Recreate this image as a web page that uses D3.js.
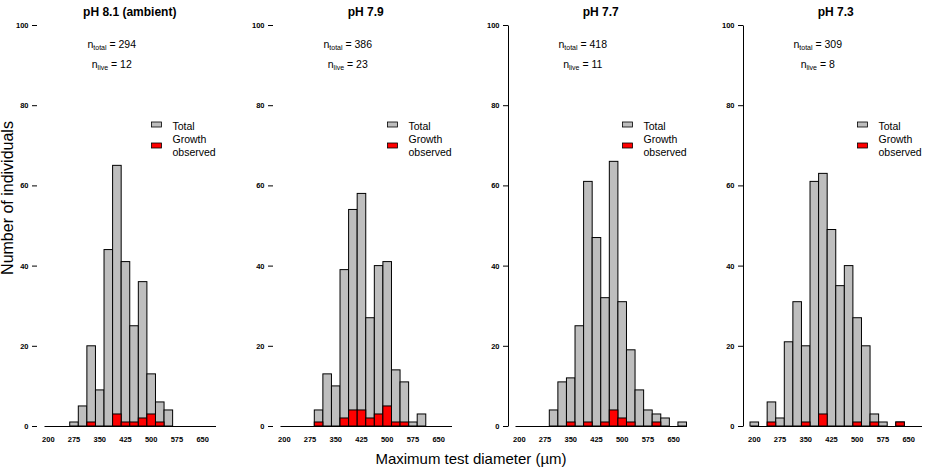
<!DOCTYPE html>
<html lang="en">
<head>
  <meta charset="UTF-8">
  <style>
    body { margin: 0; background: #fff; }
    svg { font-family: Arial, 'Liberation Sans', sans-serif; }
    .title { font-size: 12px; font-weight: bold; text-anchor: middle; }
    .tick text { font-size: 7.5px; font-weight: bold; fill: #000; }
    .note { font-size: 10.5px; text-anchor: middle; }
    .legend-text { font-size: 10.5px; }
    .axis-title { font-size: 16px; }
  </style>
  <title>Test diameter histograms</title>
  <script src="https://d3js.org/d3.v7.min.js"></script>
</head>
<body>
<svg id="chart"></svg>
<script>

// bins of 25 um (lower edge)
const bins = [200, 225, 250, 275, 300, 325, 350, 375, 400, 425, 450, 475, 500, 525, 550, 575, 600, 625, 650, 675];
const xTickLabels = [200, 275, 350, 425, 500, 575, 650];
const yTicks = [0, 20, 40, 60, 80, 100];

const panelTitles = ['pH 8.1 (ambient)', 'pH 7.9', 'pH 7.7', 'pH 7.3'];
const nTotal = [294, 386, 418, 309];
const nLive = [12, 23, 11, 8];

const totalPH81  = [0, 0, 0, 1, 5, 20, 9, 44, 65, 41, 25, 36, 13, 6, 4, 0, 0, 0, 0, 0];
const growthPH81 = [0, 0, 0, 0, 0, 1, 0, 0, 3, 1, 1, 2, 3, 1, 0, 0, 0, 0, 0, 0];
const totalPH79  = [0, 0, 0, 0, 4, 13, 10, 39, 54, 58, 27, 40, 41, 14, 11, 1, 3, 0, 0, 0];
const growthPH79 = [0, 0, 0, 0, 1, 0, 0, 2, 4, 4, 2, 3, 5, 1, 1, 0, 0, 0, 0, 0];
const totalPH77  = [0, 0, 0, 0, 4, 11, 12, 25, 61, 47, 32, 66, 31, 19, 9, 4, 3, 2, 0, 1];
const growthPH77 = [0, 0, 0, 0, 0, 0, 1, 0, 1, 0, 1, 4, 2, 1, 0, 0, 1, 0, 0, 0];
const totalPH73  = [1, 0, 6, 2, 21, 31, 20, 61, 63, 49, 35, 40, 27, 20, 3, 1, 0, 1, 0, 0];
const growthPH73 = [0, 0, 1, 0, 0, 0, 1, 0, 3, 0, 0, 0, 1, 0, 1, 0, 0, 1, 0, 0];

const totals = [totalPH81, totalPH79, totalPH77, totalPH73];
const growths = [growthPH81, growthPH79, growthPH77, growthPH73];

const size = {width: 926, height: 468};
const svg = d3.select('#chart')
              .attr('width', size.width)
              .attr('height', size.height);

const panelLeft = [44, 280, 515, 750];
const panelWidth = 171.5;
const showYLine = [false, false, true, true];

const yScale = d3.scaleLinear()
                 .domain([0, 100])
                 .range([426, 25]);

panelLeft.forEach(function(left, p) {
  const g = svg.append('g');
  const xScale = d3.scaleBand()
                   .domain(bins)
                   .range([left, left + panelWidth])
                   .padding(0);
  const axisX = left - 7;

  // total counts
  g.selectAll('.bar-total')
    .data(bins.map(function(b, i) { return {bin: b, value: totals[p][i]}; })
              .filter(function(d) { return d.value > 0; }))
    .enter()
    .append('rect')
    .attr('class', 'bar-total')
    .attr('x', function(d) { return xScale(d.bin); })
    .attr('y', function(d) { return yScale(d.value); })
    .attr('width', xScale.bandwidth())
    .attr('height', function(d) { return yScale(0) - yScale(d.value); })
    .attr('fill', '#bebebe')
    .attr('stroke', '#000')
    .attr('stroke-width', 1);

  // growth observed
  g.selectAll('.bar-growth')
    .data(bins.map(function(b, i) { return {bin: b, value: growths[p][i]}; })
              .filter(function(d) { return d.value > 0; }))
    .enter()
    .append('rect')
    .attr('class', 'bar-growth')
    .attr('x', function(d) { return xScale(d.bin); })
    .attr('y', function(d) { return yScale(d.value); })
    .attr('width', xScale.bandwidth())
    .attr('height', function(d) { return yScale(0) - yScale(d.value); })
    .attr('fill', '#ff0000')
    .attr('stroke', '#000')
    .attr('stroke-width', 1);

  // x axis: baseline + labels under every third bin
  const xAxis = d3.axisBottom(xScale)
                  .tickValues(xTickLabels)
                  .tickSize(0)
                  .tickSizeOuter(0)
                  .tickPadding(11);
  const gx = g.append('g')
              .attr('transform', 'translate(0,' + yScale(0) + ')')
              .call(xAxis);
  gx.select('.domain').attr('stroke', '#000').attr('stroke-width', 1.2);

  // y axis
  const yAxis = d3.axisLeft(yScale)
                  .tickValues(yTicks)
                  .tickSize(5)
                  .tickSizeOuter(0)
                  .tickPadding(3.5);
  const gy = g.append('g')
              .attr('transform', 'translate(' + axisX + ',0)')
              .call(yAxis);
  if (!showYLine[p]) gy.select('.domain').remove();

  const cx = left + panelWidth / 2;

  g.append('text')
    .attr('class', 'title')
    .attr('x', cx)
    .attr('y', 16)
    .text(panelTitles[p]);

  const t1 = g.append('text')
              .attr('class', 'note')
              .attr('x', cx - 18)
              .attr('y', 47.5);
  t1.append('tspan').text('n');
  t1.append('tspan').attr('dy', 2.5).attr('font-size', '7px').text('total');
  t1.append('tspan').attr('dy', -2.5).text(' = ' + nTotal[p]);

  const t2 = g.append('text')
              .attr('class', 'note')
              .attr('x', cx - 18)
              .attr('y', 67.5);
  t2.append('tspan').text('n');
  t2.append('tspan').attr('dy', 2.5).attr('font-size', '7px').text('live');
  t2.append('tspan').attr('dy', -2.5).text(' = ' + nLive[p]);

  // legend
  const lx = left + 107.5;
  g.append('rect')
    .attr('x', lx).attr('y', 122).attr('width', 10).attr('height', 5)
    .attr('fill', '#bebebe').attr('stroke', '#000').attr('stroke-width', 0.8);
  g.append('rect')
    .attr('x', lx).attr('y', 143).attr('width', 10).attr('height', 5)
    .attr('fill', '#ff0000').attr('stroke', '#000').attr('stroke-width', 0.8);
  g.append('text').attr('class', 'legend-text')
    .attr('x', lx + 21).attr('y', 129.5).text('Total');
  g.append('text').attr('class', 'legend-text')
    .attr('x', lx + 21).attr('y', 143).text('Growth');
  g.append('text').attr('class', 'legend-text')
    .attr('x', lx + 21).attr('y', 156).text('observed');
});

svg.append('text')
  .attr('class', 'axis-title')
  .attr('transform', 'translate(13,198) rotate(-90)')
  .attr('text-anchor', 'middle')
  .text('Number of individuals');

svg.append('text')
  .attr('class', 'axis-title')
  .attr('x', 471)
  .attr('y', 464)
  .attr('text-anchor', 'middle')
  .style('font-size', '15px')
  .text('Maximum test diameter (µm)');

</script>
</body>
</html>
